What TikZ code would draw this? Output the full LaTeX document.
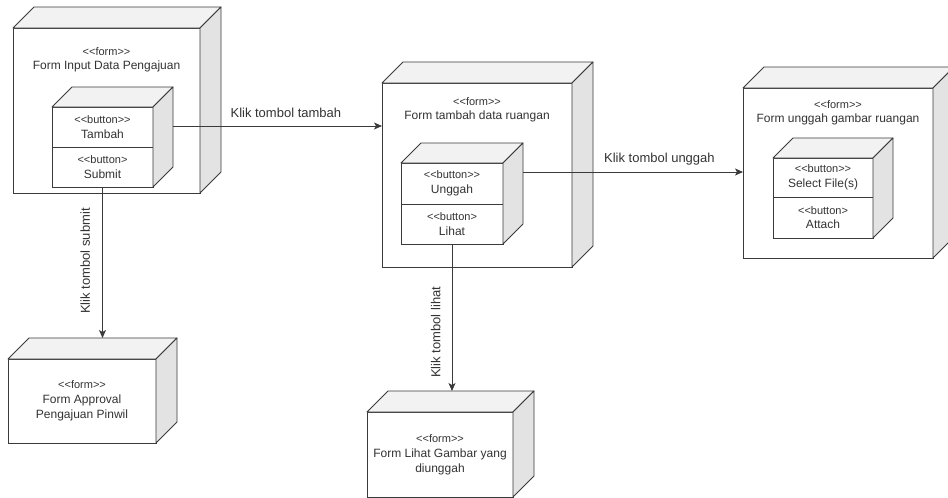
\documentclass[tikz,border=0pt]{standalone}
\usepackage{fontspec}
\setmainfont{Liberation Sans}
\usetikzlibrary{arrows.meta}

\definecolor{linecol}{HTML}{3A3A3A}
\definecolor{txtcol}{HTML}{333333}
\definecolor{topcol}{HTML}{F2F2F2}
\definecolor{sidecol}{HTML}{E3E3E3}

% smaller type for the stereotype lines
\newcommand\stereotxt{\fontsize{11}{12}\selectfont}

% top and right faces of a 3D box: #1 upper node, #2 lower node, #3 depth
\newcommand\cubefaces[3]{%
  \draw[topface] (#1.north west) -- ++(#3,-#3) -- ([shift={(#3,-#3)}]#1.north east) -- (#1.north east) -- cycle;
  \draw[sideface] (#1.north east) -- ([shift={(#3,-#3)}]#1.north east) -- ([shift={(#3,-#3)}]#2.south east) -- (#2.south east) -- cycle;
}

\begin{document}
\begin{tikzpicture}[x=1pt,y=-1pt,
  front/.style={draw=linecol, fill=white, line width=0.9pt, inner sep=0pt, outer sep=0pt, text=txtcol, align=center},
  topface/.style={draw=linecol, fill=topcol, line width=0.9pt, line join=round},
  sideface/.style={draw=linecol, fill=sidecol, line width=0.9pt, line join=round},
  title/.style={text=txtcol, align=center, inner sep=0pt, font=\fontsize{12}{14}\selectfont},
  btntxt/.style={font=\fontsize{12}{14.5}\selectfont},
  flow/.style={draw=linecol, line width=0.9pt, -{Stealth[length=8pt,width=7pt,inset=2pt]}},
  flowlabel/.style={text=txtcol, font=\fontsize{13}{15}\selectfont, inner sep=0pt},
]
\useasboundingbox (0,0) rectangle (948,498);

% ---------- Form Input Data Pengajuan ----------
\node[front, minimum width=187pt, minimum height=165pt] (f1) at (106.5,110.5) {};
\cubefaces{f1}{f1}{21}
\node[title] (f1t) at (106.5,60) {{\stereotxt <{}<form>{}>}\\Form Input Data Pengajuan};
\node[front, btntxt, minimum width=101pt, minimum height=40pt] (b1a) at (102.5,127) {{\stereotxt <{}<button>{}>}\\Tambah};
\node[front, btntxt, minimum width=101pt, minimum height=40pt] (b1b) at (102.5,167) {{\stereotxt <{}<button>}\\Submit};
\cubefaces{b1a}{b1b}{20}

% ---------- Form tambah data ruangan ----------
\node[front, minimum width=190pt, minimum height=184pt] (f2) at (477,175) {};
\cubefaces{f2}{f2}{21}
\node[title] (f2t) at (477,109.5) {{\stereotxt <{}<form>{}>}\\Form tambah data ruangan};
\node[front, btntxt, minimum width=102pt, minimum height=41pt] (b2a) at (452,183.5) {{\stereotxt <{}<button>{}>}\\Unggah};
\node[front, btntxt, minimum width=102pt, minimum height=40pt] (b2b) at (452,224) {{\stereotxt <{}<button>}\\Lihat};
\cubefaces{b2a}{b2b}{20}

% ---------- Form unggah gambar ruangan ----------
\node[front, minimum width=190pt, minimum height=170pt] (f3) at (838,173) {};
\cubefaces{f3}{f3}{21}
\node[title] (f3t) at (838,113) {{\stereotxt <{}<form>{}>}\\Form unggah gambar ruangan};
\node[front, btntxt, minimum width=100pt, minimum height=39pt] (b3a) at (823,177.5) {{\stereotxt <{}<button>{}>}\\Select File(s)};
\node[front, btntxt, minimum width=100pt, minimum height=41pt] (b3b) at (823,217.5) {{\stereotxt <{}<button>}\\Attach};
\cubefaces{b3a}{b3b}{20}

% ---------- Form Approval Pengajuan Pinwil ----------
\node[front, font=\fontsize{12}{15}\selectfont, minimum width=148pt, minimum height=84pt] (f4) at (82,401) {{\stereotxt <{}<form>{}>}\\Form Approval\\Pengajuan Pinwil};
\cubefaces{f4}{f4}{21}
\coordinate (f4top) at ([yshift=21pt]f4.north);

% ---------- Form Lihat Gambar yang diunggah ----------
\node[front, font=\fontsize{12}{15}\selectfont, minimum width=146pt, minimum height=85pt] (f5) at (440,454.5) {{\stereotxt <{}<form>{}>}\\Form Lihat Gambar yang\\diunggah};
\cubefaces{f5}{f5}{21}
\coordinate (f5top) at ([yshift=21pt]f5.north);

% ---------- navigation ----------
\coordinate (b1out) at ([xshift=20pt,yshift=1pt]b1a.east);
\draw[flow] (b1out) -- node[flowlabel, pos=0.54, anchor=base, yshift=9pt] (l1) {Klik tombol tambah} (f2.west |- b1out);

\coordinate (b2out) at ([xshift=20pt,yshift=11.5pt]b2a.east);
\draw[flow] (b2out) -- node[flowlabel, pos=0.62, anchor=base, yshift=10pt] (l2) {Klik tombol unggah} (f3.west |- b2out);

\draw[flow] (b1b.south) -- node[flowlabel, pos=0.49, rotate=90, anchor=south, inner ysep=12pt] (l3) {Klik tombol submit} (b1b.south |- f4top);

\draw[flow] (b2b.south) -- node[flowlabel, pos=0.60, rotate=90, anchor=south, inner ysep=11pt] (l4) {Klik tombol lihat} (b2b.south |- f5top);
\end{tikzpicture}
\end{document}
